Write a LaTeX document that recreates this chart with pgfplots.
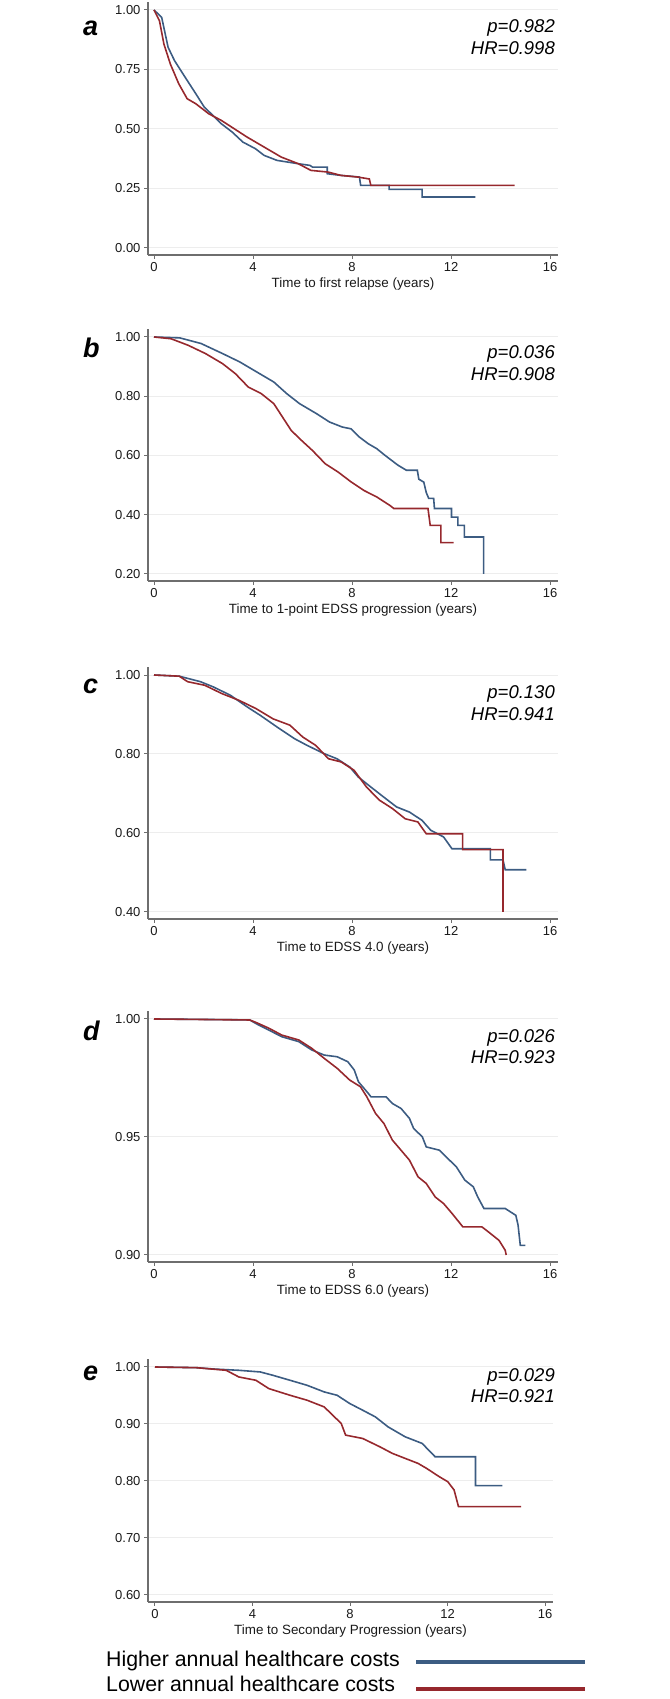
\documentclass[border=0pt]{standalone}
\usepackage{pgfplots}
\pgfplotsset{compat=1.18}
\usepackage{fontspec}
\setmainfont{Liberation Sans}
\definecolor{hiblue}{RGB}{60,92,130}
\definecolor{lored}{RGB}{150,40,45}
\definecolor{axgray}{RGB}{110,110,110}
\pgfplotsset{
  kmaxis/.style={
    scale only axis,
    axis x line=bottom, axis y line=left,
    axis line style={-, draw=axgray, line width=1.2pt},
    tick align=outside, major tick length=4pt,
    every tick/.style={draw=axgray, line width=1pt},
    ymajorgrids, major grid style={draw=black!7, line width=1pt},
    xtick={0,4,8,12,16}, xticklabels={0,4,8,12,16},
    ticklabel style={font=\fontsize{13}{13}\selectfont, text=black!90},
    xlabel style={font=\fontsize{13.4}{14}\selectfont, text=black!90, at={(axis description cs:0.5,0)}, anchor=base, yshift=-33pt},
  },
  hi/.style={draw=hiblue, line width=1.6pt, no marks, sharp plot},
  lo/.style={draw=lored, line width=1.6pt, no marks, sharp plot},
}
\begin{document}
\begin{tikzpicture}
\path[use as bounding box] (0pt,0pt) rectangle (669pt,1699pt);

% ---------- a ----------
\begin{axis}[kmaxis, at={(148pt,1444pt)}, anchor=south west, width=410pt, height=253pt,
  xmin=-0.2424, xmax=16.323, ymin=-0.0294, ymax=1.0336,
  ytick={0,0.25,0.5,0.75,1}, yticklabels={0.00,0.25,0.50,0.75,1.00},
  xlabel={Time to first relapse (years)}]
\addplot[hi] coordinates {(0,1) (0.1,0.99) (0.31,0.969) (0.57,0.843) (0.83,0.787) (1.26,0.717) (1.69,0.648) (2.03,0.592) (2.38,0.557) (2.72,0.522) (3.16,0.487) (3.59,0.445) (4.1,0.417) (4.45,0.389) (4.97,0.368) (5.83,0.354) (6.3,0.347) (6.4,0.340) (7.0,0.340) (7.0,0.312) (7.55,0.305) (8.3,0.298) (8.35,0.263) (9.5,0.263) (9.5,0.246) (10.83,0.246) (10.83,0.214) (12.98,0.214)};
\addplot[lo] coordinates {(0,1) (0.22,0.955) (0.40,0.857) (0.66,0.773) (1.0,0.69) (1.34,0.627) (1.69,0.606) (2.21,0.564) (2.72,0.536) (3.24,0.501) (3.76,0.466) (4.45,0.424) (5.14,0.382) (5.83,0.354) (6.34,0.326) (7.03,0.319) (7.55,0.305) (8.24,0.298) (8.7,0.290) (8.76,0.263) (14.57,0.263)};
\end{axis}

% ---------- b ----------
\begin{axis}[kmaxis, at={(148pt,1118pt)}, anchor=south west, width=410pt, height=252pt,
  xmin=-0.2424, xmax=16.323, ymin=0.17637, ymax=1.027,
  ytick={0.2,0.4,0.6,0.8,1}, yticklabels={0.20,0.40,0.60,0.80,1.00},
  xlabel={Time to 1-point EDSS progression (years)}]
\addplot[hi] coordinates {(0,1) (1.04,0.997) (1.9,0.978) (2.77,0.944) (3.46,0.916) (4.15,0.882) (4.84,0.848) (5.36,0.809) (5.88,0.775) (6.57,0.741) (7.09,0.713) (7.61,0.696) (7.96,0.69) (8.3,0.662) (8.65,0.64) (9.0,0.623) (9.34,0.6) (9.86,0.567) (10.2,0.55) (10.64,0.55) (10.7,0.52) (10.9,0.51) (11.0,0.475) (11.1,0.455) (11.3,0.455) (11.33,0.421) (12.02,0.421) (12.02,0.392) (12.28,0.392) (12.28,0.364) (12.54,0.364) (12.54,0.325) (13.32,0.325) (13.32,0.2)};
\addplot[lo] coordinates {(0,1) (0.69,0.994) (1.38,0.972) (2.08,0.944) (2.77,0.91) (3.29,0.876) (3.81,0.831) (4.33,0.809) (4.84,0.775) (5.19,0.73) (5.54,0.685) (5.88,0.657) (6.4,0.617) (6.92,0.572) (7.44,0.544) (7.96,0.511) (8.48,0.482) (9.0,0.46) (9.52,0.432) (9.69,0.421) (11.07,0.421) (11.16,0.364) (11.59,0.364) (11.59,0.306) (12.11,0.306)};
\end{axis}

% ---------- c ----------
\begin{axis}[kmaxis, at={(148pt,780pt)}, anchor=south west, width=410pt, height=252pt,
  xmin=-0.2424, xmax=16.323, ymin=0.3823, ymax=1.0203,
  ytick={0.4,0.6,0.8,1}, yticklabels={0.40,0.60,0.80,1.00},
  xlabel={Time to EDSS 4.0 (years)}]
\addplot[hi] coordinates {(0,1) (1.02,0.997) (1.88,0.983) (2.39,0.97) (3.08,0.949) (3.77,0.919) (4.29,0.898) (4.98,0.868) (5.67,0.839) (6.18,0.822) (6.87,0.801) (7.39,0.788) (7.91,0.767) (8.25,0.742) (8.77,0.716) (9.28,0.691) (9.8,0.666) (10.32,0.653) (10.83,0.632) (11.18,0.607) (11.7,0.59) (12.04,0.56) (13.59,0.56) (13.59,0.532) (14.1,0.532) (14.19,0.507) (15.05,0.507)};
\addplot[lo] coordinates {(0,1) (1.02,0.997) (1.36,0.983) (2.05,0.974) (2.74,0.953) (3.43,0.936) (4.12,0.915) (4.81,0.889) (5.49,0.873) (6.01,0.843) (6.53,0.822) (7.05,0.788) (7.56,0.78) (8.08,0.759) (8.59,0.716) (9.11,0.683) (9.63,0.662) (10.15,0.636) (10.66,0.628) (11.0,0.598) (12.47,0.598) (12.47,0.558) (14.1,0.558) (14.1,0.4)};
\end{axis}

% ---------- d ----------
\begin{axis}[kmaxis, at={(148pt,437pt)}, anchor=south west, width=410pt, height=251pt,
  xmin=-0.2424, xmax=16.323, ymin=0.897034, ymax=1.00339,
  ytick={0.9,0.95,1}, yticklabels={0.90,0.95,1.00},
  xlabel={Time to EDSS 6.0 (years)}]
\addplot[hi] coordinates {(0,1) (3.1,0.9997) (3.87,0.99958) (4.13,0.998) (4.64,0.9953) (5.16,0.9925) (5.85,0.9904) (6.37,0.9869) (6.88,0.9847) (7.4,0.984) (7.83,0.9819) (8.09,0.9784) (8.26,0.9734) (8.6,0.9692) (8.77,0.967) (9.38,0.967) (9.63,0.9642) (9.98,0.9621) (10.32,0.9579) (10.49,0.9536) (10.84,0.9501) (11.0,0.9458) (11.53,0.9444) (11.87,0.9409) (12.22,0.9373) (12.56,0.9317) (12.9,0.9289) (13.08,0.9246) (13.33,0.9197) (14.19,0.9197) (14.62,0.9168) (14.71,0.9126) (14.8,0.9041) (15.0,0.9041)};
\addplot[lo] coordinates {(0,1) (3.87,0.99958) (4.13,0.9985) (4.64,0.9961) (5.16,0.9932) (5.85,0.9911) (6.37,0.9876) (6.88,0.9833) (7.4,0.9791) (7.91,0.9741) (8.34,0.9713) (8.6,0.967) (8.95,0.96) (9.29,0.9557) (9.63,0.9487) (9.98,0.9444) (10.32,0.9402) (10.67,0.9331) (11.0,0.9303) (11.36,0.9246) (11.7,0.9218) (12.05,0.9175) (12.48,0.9119) (13.25,0.9119) (13.51,0.9098) (13.94,0.9062) (14.19,0.902) (14.23,0.9)};
\end{axis}

% ---------- e ----------
\begin{axis}[kmaxis, at={(148pt,97pt)}, anchor=south west, width=405pt, height=243pt,
  xmin=-0.287, xmax=16.328, ymin=0.58772, ymax=1.01404,
  ytick={0.6,0.7,0.8,0.9,1}, yticklabels={0.60,0.70,0.80,0.90,1.00},
  xlabel={Time to Secondary Progression (years)}]
\addplot[hi] coordinates {(0,1) (1.7,0.9988) (2.4,0.9965) (3.44,0.9942) (4.32,0.9913) (4.84,0.9854) (5.54,0.9767) (6.24,0.9679) (6.94,0.9563) (7.47,0.9504) (7.99,0.9359) (8.52,0.9242) (9.04,0.9125) (9.56,0.895) (10.26,0.8776) (10.96,0.8659) (11.49,0.8426) (13.15,0.8426) (13.15,0.7918) (14.25,0.7918)};
\addplot[lo] coordinates {(0,1) (1.7,0.9988) (2.92,0.9942) (3.44,0.9825) (4.14,0.9767) (4.67,0.9621) (5.54,0.9504) (6.24,0.9417) (6.94,0.93) (7.29,0.9155) (7.64,0.9009) (7.82,0.8805) (8.52,0.8746) (9.22,0.8601) (9.74,0.8484) (10.26,0.8397) (10.79,0.8309) (11.14,0.8222) (11.66,0.8076) (12.01,0.7988) (12.27,0.7843) (12.45,0.7551) (15.02,0.7551)};
\end{axis}

% panel letters
\begin{scope}[every node/.style={anchor=base west, font=\fontsize{27}{27}\selectfont\bfseries\itshape, inner sep=0pt}]
\node at (83pt,1663pt) {a};
\node at (83pt,1341pt) {b};
\node at (83pt,1005pt) {c};
\node at (83pt,658pt) {d};
\node at (83pt,318pt) {e};
\end{scope}

% p / HR annotations
\begin{scope}[every node/.style={anchor=base east, font=\fontsize{18.5}{20}\selectfont\itshape, inner sep=0pt}]
\node at (555pt,1666pt) {p=0.982}; \node at (555pt,1644pt) {HR=0.998};
\node at (555pt,1340pt) {p=0.036}; \node at (555pt,1318pt) {HR=0.908};
\node at (555pt,1000pt) {p=0.130}; \node at (555pt,978pt) {HR=0.941};
\node at (555pt,656pt) {p=0.026}; \node at (555pt,635pt) {HR=0.923};
\node at (555pt,317pt) {p=0.029}; \node at (555pt,296pt) {HR=0.921};
\end{scope}

% legend
\node[anchor=base west, font=\fontsize{21.3}{22}\selectfont, inner sep=0pt] at (106pt,32pt) {Higher annual healthcare costs};
\node[anchor=base west, font=\fontsize{21.3}{22}\selectfont, inner sep=0pt] at (106pt,7pt) {Lower annual healthcare costs};
\draw[hiblue, line width=4.5pt] (416pt,37pt) -- (585pt,37pt);
\draw[lored, line width=4.5pt] (416pt,10pt) -- (585pt,10pt);
\end{tikzpicture}
\end{document}
